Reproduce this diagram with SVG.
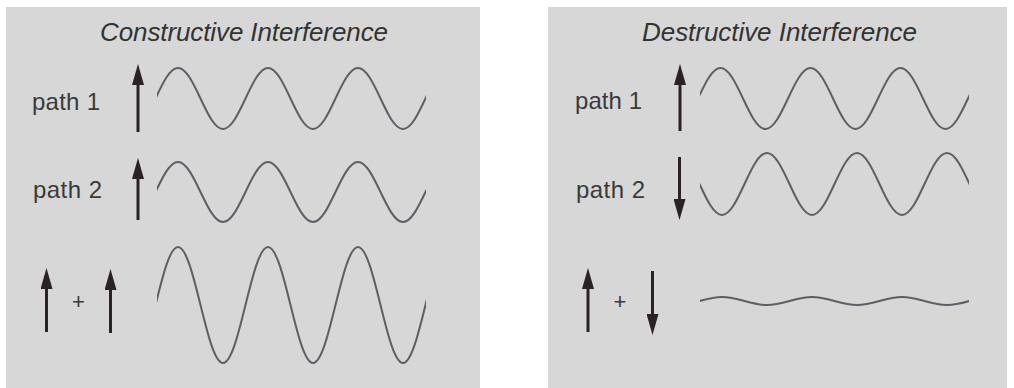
<svg xmlns="http://www.w3.org/2000/svg" width="1014" height="388" viewBox="0 0 1014 388">
  <style>
    .panel { fill: #d7d7d7; }
    .title { font-family: "Liberation Sans", Arial, sans-serif; font-style: italic; font-size: 26px; fill: #333333; text-anchor: middle; }
    .label { font-family: "Liberation Sans", Arial, sans-serif; font-size: 24px; fill: #3a3a3a; }
    .plus { font-family: "Liberation Sans", Arial, sans-serif; font-size: 22px; fill: #3a3a3a; text-anchor: middle; }
    .wave { fill: none; stroke: #5e5e66; stroke-width: 2; }
    .arrow { stroke: #2a2224; stroke-width: 3; marker-end: url(#head); }
  </style>
  <defs>
    <marker id="head" markerUnits="userSpaceOnUse" markerWidth="21" markerHeight="12" viewBox="0 0 21 12" refX="1" refY="6" orient="auto">
      <path d="M0,0 L21,6 L0,12 Z" fill="#2a2224"/>
    </marker>
    <clipPath id="clipL"><rect x="157" y="0" width="269" height="388"/></clipPath>
    <clipPath id="clipR"><rect x="700" y="0" width="269" height="388"/></clipPath>
  </defs>

  <g id="panel-constructive">
    <rect class="panel" x="6" y="7" width="474" height="381"/>
    <text class="title" x="244" y="41" textLength="288" lengthAdjust="spacing">Constructive Interference</text>
  </g>
  <g id="panel-destructive">
    <rect class="panel" x="548" y="7" width="459" height="381"/>
    <text class="title" x="779.5" y="41" textLength="275" lengthAdjust="spacing">Destructive Interference</text>
  </g>

  <g id="labels">
    <text class="label" x="32" y="110" textLength="68" lengthAdjust="spacing">path 1</text>
    <text class="label" x="33" y="198" textLength="69" lengthAdjust="spacing">path 2</text>
    <text class="label" x="575" y="109" textLength="67" lengthAdjust="spacing">path 1</text>
    <text class="label" x="576" y="198" textLength="69" lengthAdjust="spacing">path 2</text>
    <text class="plus" x="78.5" y="309">+</text>
    <text class="plus" x="620" y="308.5">+</text>
  </g>

  <g id="arrows">
    <line class="arrow" x1="138" y1="132" x2="138" y2="84"/>
    <line class="arrow" x1="138" y1="220" x2="138" y2="178"/>
    <line class="arrow" x1="46.5" y1="332" x2="46.5" y2="288"/>
    <line class="arrow" x1="110.5" y1="333" x2="110.5" y2="289"/>
    <line class="arrow" x1="680" y1="131" x2="680" y2="84"/>
    <line class="arrow" x1="679.5" y1="157" x2="679.5" y2="200"/>
    <line class="arrow" x1="588" y1="332" x2="588" y2="288"/>
    <line class="arrow" x1="652.5" y1="271" x2="652.5" y2="315"/>
  </g>

  <g id="waves">
    <path class="wave" clip-path="url(#clipL)" d="M133,129 c16.35,0 28.65,-61 45,-61 s28.65,61 45,61 s28.65,-61 45,-61 s28.65,61 45,61 s28.65,-61 45,-61 s28.65,61 45,61 s28.65,-61 45,-61"/>
    <path class="wave" clip-path="url(#clipL)" d="M133,222 c16.35,0 28.65,-60 45,-60 s28.65,60 45,60 s28.65,-60 45,-60 s28.65,60 45,60 s28.65,-60 45,-60 s28.65,60 45,60 s28.65,-60 45,-60"/>
    <path class="wave" clip-path="url(#clipL)" d="M133,363 c16.35,0 28.65,-116 45,-116 s28.65,116 45,116 s28.65,-116 45,-116 s28.65,116 45,116 s28.65,-116 45,-116 s28.65,116 45,116 s28.65,-116 45,-116"/>
    <path class="wave" clip-path="url(#clipR)" d="M675.5,129 c16.35,0 28.65,-61 45,-61 s28.65,61 45,61 s28.65,-61 45,-61 s28.65,61 45,61 s28.65,-61 45,-61 s28.65,61 45,61 s28.65,-61 45,-61"/>
    <path class="wave" clip-path="url(#clipR)" d="M677,153 c16.35,0 28.65,62 45,62 s28.65,-62 45,-62 s28.65,62 45,62 s28.65,-62 45,-62 s28.65,62 45,62 s28.65,-62 45,-62 s28.65,62 45,62"/>
    <path class="wave" clip-path="url(#clipR)" d="M677,305 c16.35,0 28.65,-8 45,-8 s28.65,8 45,8 s28.65,-8 45,-8 s28.65,8 45,8 s28.65,-8 45,-8 s28.65,8 45,8 s28.65,-8 45,-8"/>
  </g>
</svg>
